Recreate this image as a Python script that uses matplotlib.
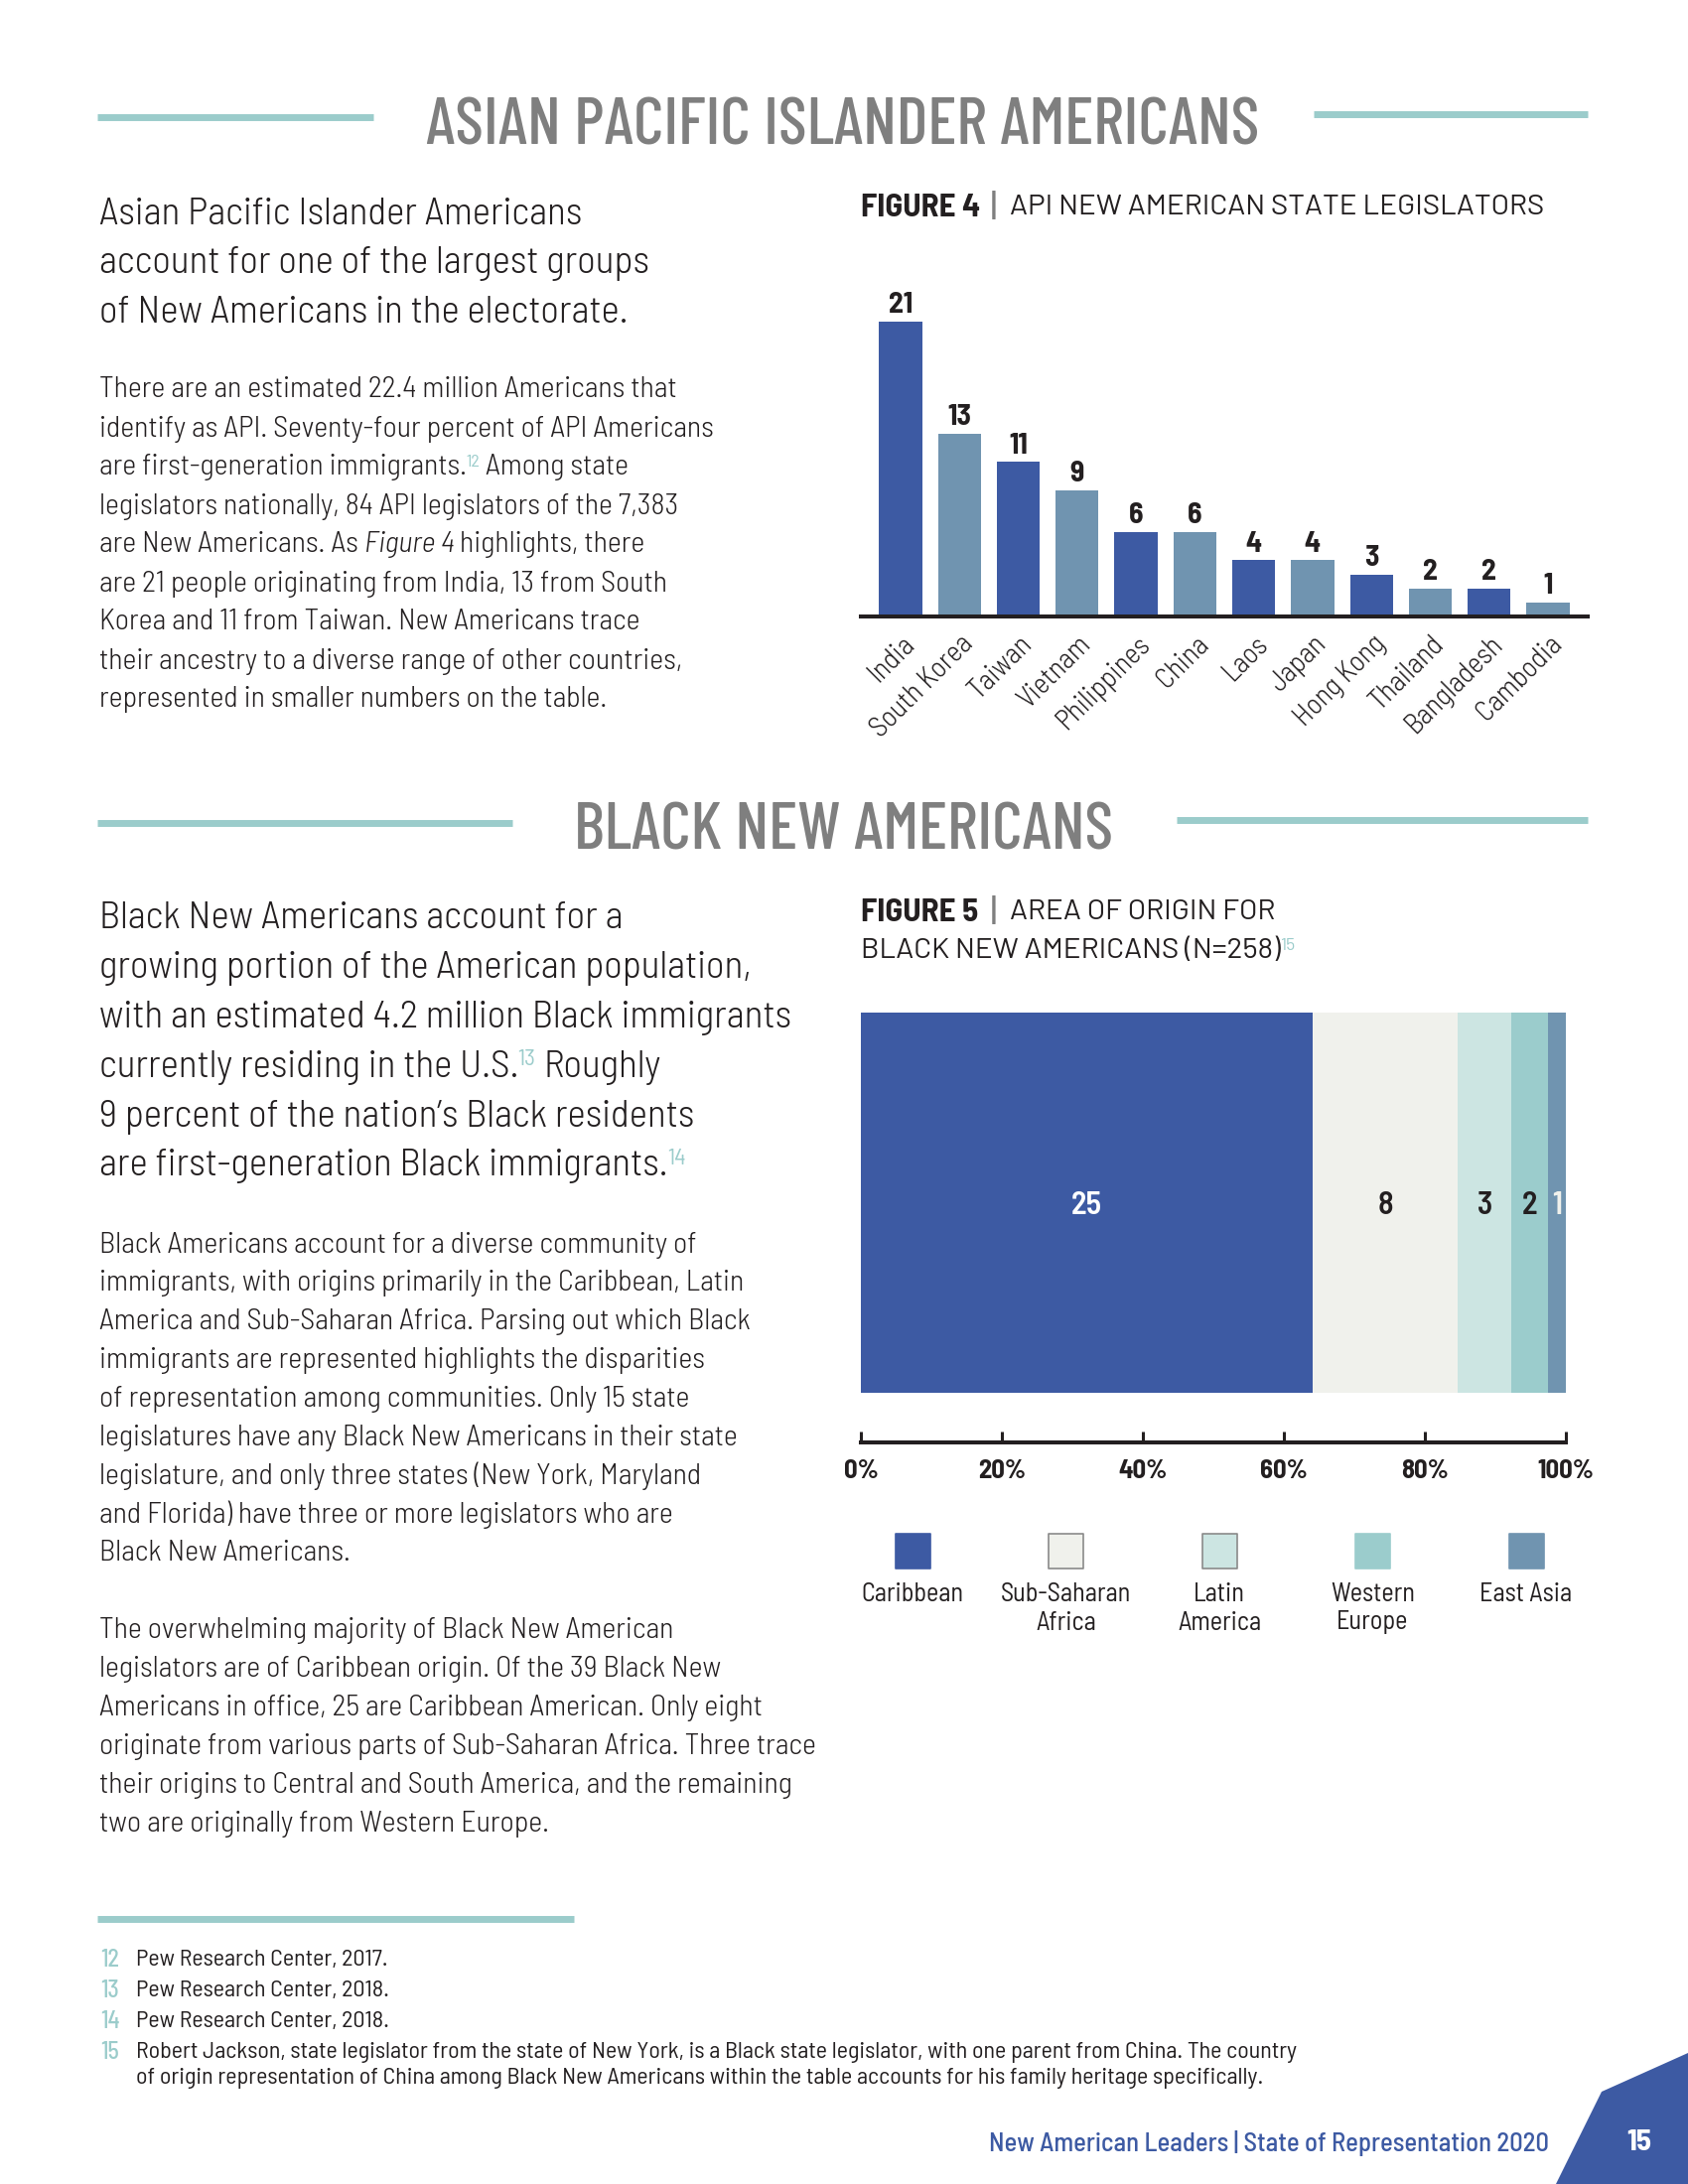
import matplotlib
matplotlib.use("Agg")
import matplotlib.pyplot as plt
from matplotlib.patches import Polygon
from matplotlib.transforms import ScaledTranslation
import numpy as np

# ---------------- data ----------------
api_countries = ["India", "South Korea", "Taiwan", "Vietnam", "Philippines", "China",
                 "Laos", "Japan", "Hong Kong", "Thailand", "Bangladesh", "Cambodia"]
api_counts = [21, 13, 11, 9, 6, 6, 4, 4, 3, 2, 2, 1]

origin_regions = ["Caribbean", "Sub-Saharan\nAfrica", "Latin\nAmerica", "Western\nEurope", "East Asia"]
origin_counts = [25, 8, 3, 2, 1]
pct_ticks = [0, 20, 40, 60, 80, 100]
pct_labels = [f"{t}%" for t in pct_ticks]

# ---------------- style ----------------
DARK = "#231f20"
BLUE = "#3d5aa3"
STEEL = "#7094b0"
TEAL = "#9bcccb"
GRAY = "#7f7f7f"
origin_colors = [BLUE, "#f0f1ec", "#cce5e2", "#9bcccc", STEEL]
origin_edges = [BLUE, "#8a8a8a", "#8a8a8a", "#9bcccc", STEEL]
origin_label_colors = ["white", DARK, DARK, DARK, "#f0f1ec"]
api_colors = [BLUE if i % 2 == 0 else STEEL for i in range(len(api_counts))]

BODY = "Barlow Semi Condensed"
HEAD = "Barlow Condensed"
TRACK = "Barlow"

W, H = 1700, 2200
fig = plt.figure(figsize=(W / 100, H / 100), dpi=100)
fig.patch.set_facecolor("white")
page = fig.add_axes([0, 0, 1, 1])
page.set_xlim(0, W)
page.set_ylim(H, 0)
page.axis("off")
R = fig.canvas.get_renderer()


def text_width(s, size, **kw):
    t = page.text(0, 0, s, fontsize=size, **kw)
    w = t.get_window_extent(R).width
    t.remove()
    return w


def fit_size(s, target, **kw):
    return 40 * target / text_width(s, 40, **kw)


def em(size):
    return size * 100 / 72


def draw_line(x, cy, line, size, family=BODY, weight=300, color=DARK):
    if isinstance(line, str):
        line = [(line, "n")]
    sp = text_width("a a", size, family=family, weight=weight) - text_width("aa", size, family=family, weight=weight)
    for s, kind in line:
        if s.startswith(" "):
            x += sp
        s2 = s.strip()
        kw = dict(family=family, weight=weight, color=color, fontsize=size)
        y = cy
        if kind == "sup":
            kw.update(fontsize=size * 0.6, color=TEAL, weight=400)
            y = cy - 0.15 * em(size)
            x -= 0.02 * em(size)
        elif kind == "i":
            kw.update(style="italic")
        t = page.text(x, y, s2, ha="left", va="center_baseline", **kw)
        x = t.get_window_extent(R).x1
        if s.endswith(" "):
            x += sp
    return x


def paragraph(x, y0, step, lines, size, **kw):
    for i, ln in enumerate(lines):
        draw_line(x, y0 + i * step, ln, size, **kw)


def rule(x0, x1, y):
    page.plot([x0, x1], [y, y], color=TEAL, lw=5.0, solid_capstyle="butt")


# ---------------- section headers ----------------
hsize = fit_size("ASIAN PACIFIC ISLANDER AMERICANS", 842, family=HEAD, weight=500)
page.text(849, 122, "ASIAN PACIFIC ISLANDER AMERICANS", ha="center", va="center_baseline",
          family=HEAD, weight=500, color=GRAY, fontsize=hsize)
rule(98, 376, 118)
rule(1323, 1599, 115)

page.text(850, 832, "BLACK NEW AMERICANS", ha="center", va="center_baseline",
          family=HEAD, weight=500, color=GRAY, fontsize=hsize)
rule(98, 516, 829)
rule(1185, 1599, 826)

# ---------------- body text ----------------
intro_size = fit_size("with an estimated 4.2 million Black immigrants", 697, family=BODY, weight=300)
body_size = fit_size("identify as API. Seventy-four percent of API Americans", 619, family=BODY, weight=300)

intro1 = ["Asian Pacific Islander Americans",
          "account for one of the largest groups",
          "of New Americans in the electorate."]
paragraph(100, 212, 49.7, intro1, intro_size)

body1 = ["There are an estimated 22.4 million Americans that",
         "identify as API. Seventy-four percent of API Americans",
         [("are first-generation immigrants.", "n"), ("12", "sup"), (" Among state", "n")],
         "legislators nationally, 84 API legislators of the 7,383",
         [("are New Americans. As ", "n"), ("Figure 4", "i"), (" highlights, there", "n")],
         "are 21 people originating from India, 13 from South",
         "Korea and 11 from Taiwan. New Americans trace",
         "their ancestry to a diverse range of other countries,",
         "represented in smaller numbers on the table."]
paragraph(100, 390, 39.0, body1, body_size)

intro2 = ["Black New Americans account for a",
          "growing portion of the American population,",
          "with an estimated 4.2 million Black immigrants",
          [("currently residing in the U.S.", "n"), ("13", "sup"), (" Roughly", "n")],
          "9 percent of the nation\u2019s Black residents",
          [("are first-generation Black immigrants.", "n"), ("14", "sup")]]
paragraph(100, 921.5, 49.9, intro2, intro_size)

body2a = ["Black Americans account for a diverse community of",
          "immigrants, with origins primarily in the Caribbean, Latin",
          "America and Sub-Saharan Africa. Parsing out which Black",
          "immigrants are represented highlights the disparities",
          "of representation among communities. Only 15 state",
          "legislatures have any Black New Americans in their state",
          "legislature, and only three states (New York, Maryland",
          "and Florida) have three or more legislators who are",
          "Black New Americans."]
paragraph(100, 1251, 38.8, body2a, body_size)

body2b = ["The overwhelming majority of Black New American",
          "legislators are of Caribbean origin. Of the 39 Black New",
          "Americans in office, 25 are Caribbean American. Only eight",
          "originate from various parts of Sub-Saharan Africa. Three trace",
          "their origins to Central and South America, and the remaining",
          "two are originally from Western Europe."]
paragraph(100, 1640, 38.9, body2b, body_size)

# ---------------- figure titles ----------------
fig_bold = fit_size("FIGURE 4", 120, family=BODY, weight=700)
fig_reg = fit_size("API NEW AMERICAN STATE LEGISLATORS", 540, family=TRACK, weight=400)


def fig_title(y, label, rest):
    page.text(867, y, label, ha="left", va="center_baseline", family=BODY, weight=700,
              color=DARK, fontsize=fig_bold)
    page.text(1001, y, "|", ha="center", va="center_baseline", family=BODY, weight=500,
              color=GRAY, fontsize=fig_bold * 1.05)
    page.text(1017, y, rest, ha="left", va="center_baseline", family=TRACK, weight=400,
              color=DARK, fontsize=fig_reg)


fig_title(206, "FIGURE 4", "API NEW AMERICAN STATE LEGISLATORS")
fig_title(916, "FIGURE 5", "AREA OF ORIGIN FOR")
draw_line(867, 955, [("BLACK NEW AMERICANS (N=258)", "n"), ("15", "sup")], fig_reg,
          family=TRACK, weight=400)

# ---------------- figure 4: bar chart ----------------
px_per_unit = 14.15
ax1 = fig.add_axes([867 / W, 1 - 621 / H, 732 / W, (621 - 295) / H])
ax1.patch.set_alpha(0)
xpos = np.arange(len(api_countries))
bars = ax1.bar(xpos, api_counts, width=0.73, color=api_colors, zorder=2)
ax1.set_xlim(-0.675, len(api_countries) - 1 + 0.675)
ax1.set_ylim(0, (621 - 295) / px_per_unit)
for s in ["top", "right", "left"]:
    ax1.spines[s].set_visible(False)
ax1.spines["bottom"].set_linewidth(2.9)
ax1.spines["bottom"].set_color(DARK)
ax1.spines["bottom"].set_zorder(3)
ax1.set_yticks([])
tick_fs = fit_size("Philippines", 120, family=BODY, weight=300)
ax1.set_xticks(xpos)
ax1.set_xticklabels(api_countries, rotation=45, ha="right", va="center", rotation_mode="anchor",
                    family=BODY, weight=300, fontsize=tick_fs, color=DARK)
ax1.tick_params(axis="x", length=0, pad=17)
shift = ScaledTranslation(0.10, 0, fig.dpi_scale_trans)
for lab in ax1.get_xticklabels():
    lab.set_transform(lab.get_transform() + shift)
val_fs = fit_size("13", 24, family=BODY, weight=700)
ax1.bar_label(bars, padding=2, family=BODY, weight=700, fontsize=val_fs, color=DARK)

# ---------------- figure 5: stacked bar ----------------
ax2 = fig.add_axes([867 / W, 1 - 1453 / H, 710 / W, (1453 - 1020) / H])
ax2.patch.set_alpha(0)
total = sum(origin_counts)
shares = [c / total * 100 for c in origin_counts]
lefts = np.concatenate([[0], np.cumsum(shares)[:-1]])
ax2.barh(0.5, shares, left=lefts, height=1.0, color=origin_colors, linewidth=0)
ax2.set_xlim(0, 100)
ax2.set_ylim(-0.1306, 1)
num_fs = fit_size("25", 31, family=BODY, weight=600)
for l, s, c, col in zip(lefts, shares, origin_counts, origin_label_colors):
    ax2.text(l + s / 2, 0.5, str(c), ha="center", va="center_baseline", color=col,
             family=BODY, weight=600, fontsize=num_fs)
for s in ["top", "right", "left"]:
    ax2.spines[s].set_visible(False)
ax2.spines["bottom"].set_linewidth(2.9)
ax2.spines["bottom"].set_color(DARK)
ax2.set_yticks([])
ax2.set_xticks(pct_ticks)
pct_fs = fit_size("100%", 57, family=BODY, weight=700)
ax2.set_xticklabels(pct_labels, family=BODY, weight=700, fontsize=pct_fs, color=DARK)
ax2.tick_params(axis="x", direction="in", length=8, width=2.2, color=DARK, pad=12)

# ---------------- figure 5: legend ----------------
axL = fig.add_axes([841.75 / W, 1 - 1660 / H, 772.5 / W, (1660 - 1530) / H])
axL.set_xlim(-0.5, len(origin_regions) - 0.5)
axL.set_ylim(1660, 1530)
axL.axis("off")
leg_fs = fit_size("Caribbean", 103, family=BODY, weight=400)
axL.scatter(np.arange(len(origin_regions)), [1562.5] * len(origin_regions), marker="s",
            s=(35 * 0.72) ** 2, c=origin_colors, edgecolors=origin_edges, linewidths=1.2)
for i, lab in enumerate(origin_regions):
    for j, part in enumerate(lab.split("\n")):
        axL.text(i, 1603 + j * 29, part, ha="center", va="center_baseline", family=BODY,
                 weight=400, fontsize=leg_fs, color=DARK)

# ---------------- footnotes ----------------
rule(98, 578, 1933)
fn_size = fit_size("Robert Jackson, state legislator from the state of New York, is a Black state "
                   "legislator, with one parent from China. The country", 1174, family=BODY, weight=400)
notes = [("12", ["Pew Research Center, 2017."]),
         ("13", ["Pew Research Center, 2018."]),
         ("14", ["Pew Research Center, 2018."]),
         ("15", ["Robert Jackson, state legislator from the state of New York, is a Black state "
                 "legislator, with one parent from China. The country",
                 "of origin representation of China among Black New Americans within the table "
                 "accounts for his family heritage specifically."])]
y = 1972
for num, lines in notes:
    page.text(101, y, num, ha="left", va="center_baseline", family=BODY, weight=500,
              color=TEAL, fontsize=fn_size)
    for k, ln in enumerate(lines):
        page.text(137, y + k * 26, ln, ha="left", va="center_baseline", family=BODY, weight=400,
                  color=DARK, fontsize=fn_size)
    y += 31

# ---------------- footer ----------------
page.add_patch(Polygon([(1700, 2068), (1613, 2107), (1567, 2200), (1700, 2200)],
                       closed=True, facecolor=BLUE, edgecolor="none"))
foot_fs = fit_size("New American Leaders | State of Representation 2020", 565, family=BODY, weight=500)
page.text(1560, 2156, "New American Leaders | State of Representation 2020", ha="right",
          va="center_baseline", family=BODY, weight=500, color=BLUE, fontsize=foot_fs)
page.text(1651, 2155, "15", ha="center", va="center_baseline", family=BODY, weight=700,
          color="white", fontsize=fit_size("15", 25, family=BODY, weight=700))

fig.savefig("out.png", dpi=100, facecolor="white")
